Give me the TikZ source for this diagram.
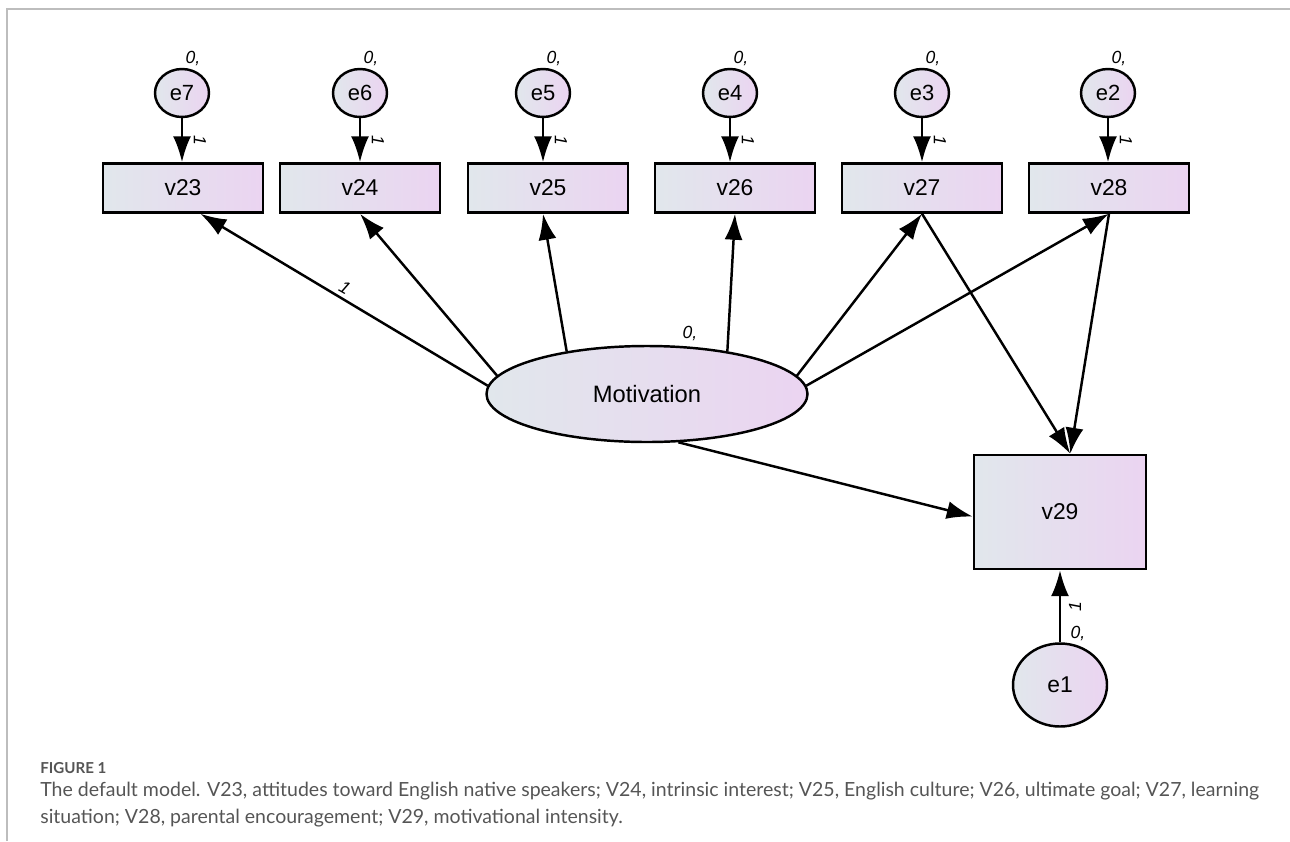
\documentclass[tikz,border=0pt]{standalone}
\usepackage{fontspec}
\setmainfont{Liberation Sans}
\newfontfamily\capfont{Lato}
\usetikzlibrary{arrows.meta,shapes.geometric}
\definecolor{semL}{HTML}{E1E7EC}
\definecolor{semR}{HTML}{EBD4F1}
\definecolor{capgray}{HTML}{555555}
\definecolor{framegray}{HTML}{BDBDBD}
\tikzset{
  obs/.style={rectangle,draw=black,line width=1.4pt,left color=semL,right color=semR,
    minimum width=3.2cm,minimum height=0.98cm,inner sep=0pt,font=\fontsize{13}{15}\selectfont},
  err/.style={ellipse,draw=black,line width=1.4pt,left color=semL,right color=semR,
    minimum width=1.08cm,minimum height=0.96cm,inner sep=0pt,font=\fontsize{12.5}{14}\selectfont},
  lat/.style={err,minimum width=6.42cm,minimum height=1.92cm,font=\fontsize{13.5}{15}\selectfont},
  path/.style={-{Latex[length=0.52cm,width=0.36cm]},line width=1.4pt},
  est/.style={font=\fontsize{10}{11}\selectfont\itshape,inner sep=1pt},
  capline/.style={anchor=west,inner sep=0pt,text=capgray,font=\capfont\fontsize{11.1}{13}\selectfont},
}
\begin{document}
\begin{tikzpicture}
  \useasboundingbox (0,0) rectangle (25.8,-16.82);
  \draw[framegray,line width=1.2pt] (0.14,-16.82)--(0.14,-0.18)--(25.8,-0.18);
  % error terms
  \node[err,label={[est,xshift=0.22cm]above:{0,}}] (e7) at (3.64,-1.86){e7};
  \node[err,label={[est,xshift=0.22cm]above:{0,}}] (e6) at (7.2,-1.86){e6};
  \node[err,label={[est,xshift=0.22cm]above:{0,}}] (e5) at (10.86,-1.86){e5};
  \node[err,label={[est,xshift=0.22cm]above:{0,}}] (e4) at (14.6,-1.86){e4};
  \node[err,label={[est,xshift=0.22cm]above:{0,}}] (e3) at (18.44,-1.86){e3};
  \node[err,label={[est,xshift=0.22cm]above:{0,}}] (e2) at (22.16,-1.86){e2};
  % observed items
  \node[obs] (v23) at (3.66,-3.76){v23}; \node[obs] (v24) at (7.2,-3.76){v24};
  \node[obs] (v25) at (10.96,-3.76){v25}; \node[obs] (v26) at (14.7,-3.76){v26};
  \node[obs] (v27) at (18.44,-3.76){v27}; \node[obs] (v28) at (22.18,-3.76){v28};
  \node[lat] (mot) at (12.94,-7.88){Motivation};
  \node[obs,minimum width=3.44cm,minimum height=2.28cm] (v29) at (21.2,-10.24){v29};
  \node[err,minimum width=1.88cm,minimum height=1.66cm,font=\fontsize{13}{15}\selectfont] (e1) at (21.2,-13.7){e1};
  % fixed weights
  \node[est,rotate=-90] (w7) at (4.0,-2.8){1}; \node[est,rotate=-90] (w6) at (7.56,-2.8){1};
  \node[est,rotate=-90] (w5) at (11.22,-2.8){1}; \node[est,rotate=-90] (w4) at (14.96,-2.8){1};
  \node[est,rotate=-90] (w3) at (18.8,-2.8){1}; \node[est,rotate=-90] (w2) at (22.52,-2.8){1};
  \node[est,rotate=90] (w1) at (21.5,-12.14){1}; \node[est] (i1) at (21.56,-12.66){0,};
  \node[est,rotate=-30] (wm) at (6.9,-5.76){1}; \node[est] (im) at (13.8,-6.66){0,};
  % paths
  \draw[path] (e7)--(e7 |- v23.north); \draw[path] (e6)--(e6 |- v24.north);
  \draw[path] (e5)--(e5 |- v25.north); \draw[path] (e4)--(e4 |- v26.north);
  \draw[path] (e3)--(e3 |- v27.north); \draw[path] (e2)--(e2 |- v28.north);
  \draw[path] (mot.177)--(v23.-56); \draw[path] (mot.173)--(v24.south);
  \draw[path] (mot.152)--(e5 |- v25.south); \draw[path] (mot.28)--(v26.south);
  \draw[path] (mot.7)--(v27.south); \draw[path] (mot.3)--(v28.south);
  \draw[path] (v27.south)--(v29.80); \draw[path] (v28.south)--(v29.80);
  \draw[path] (mot.-57)--(v29.183);
  \draw[path] (e1)--(v29);
  % caption
  \node[capline,font=\capfont\bfseries\fontsize{8.6}{10}\selectfont] (fig) at (0.8,-15.36){FIGURE 1};
  \node[capline] (capA) at (0.8,-15.82){The default model. V23, attitudes toward English native speakers; V24, intrinsic interest; V25, English culture; V26, ultimate goal; V27, learning};
  \node[capline] (capB) at (0.8,-16.36){situation; V28, parental encouragement; V29, motivational intensity.};
\end{tikzpicture}
\end{document}
